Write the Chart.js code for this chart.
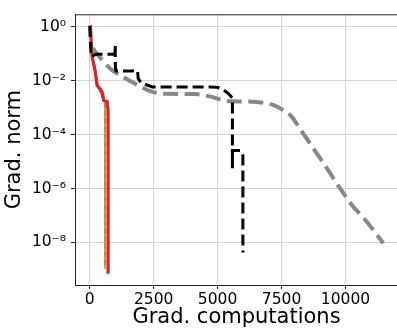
<!DOCTYPE html>
<html>
<head>
<meta charset="utf-8">
<script src="https://cdn.jsdelivr.net/npm/chart.js@4/dist/chart.umd.min.js"></script>
<style>
  html, body { margin: 0; padding: 0; background: #fff; overflow: hidden; }
  canvas { display: block; }
</style>
</head>
<body>
<canvas id="gradChart" width="400" height="329"></canvas>
<script>
// values
const xTicks = [0, 2500, 5000, 7500, 10000];
const yTicks = [1, 1e-2, 1e-4, 1e-6, 1e-8];
const yTickLabels = ['10⁰', '10⁻²', '10⁻⁴', '10⁻⁶', '10⁻⁸'];

const blackX = [0, 55, 250, 500, 980, 1000, 1000, 1010, 1030, 1160, 1630, 1870, 1900, 2000, 2450, 4720, 5000, 5230, 5400, 5580, 5580, 5580, 5890, 5990, 5990];
const blackY = [1.1, 0.078, 0.097, 0.097, 0.097, 0.2, 0.046, 0.03, 0.023, 0.023, 0.023, 0.024, 0.012, 0.0085, 0.0059, 0.0059, 0.0057, 0.0046, 0.0035, 0.0023, 5.7e-6, 2.6e-5, 2.6e-5, 1.7e-5, 4.2e-9];

const greyX = [117, 420, 810, 1360, 1820, 2370, 2960, 4130, 4790, 5300, 6080, 6860, 7140, 7530, 7920, 8230, 8780, 9240, 9790, 10260, 10770, 11480];
const greyY = [0.16, 0.07, 0.028, 0.013, 0.0074, 0.0041, 0.0033, 0.0032, 0.0025, 0.0018, 0.0017, 0.0015, 0.0013, 8.5e-4, 4.4e-4, 1.6e-4, 2.8e-5, 6.3e-6, 1.0e-6, 2.4e-7, 6.9e-8, 9.3e-9];

const redX = [0, 28, 94, 223, 290, 485, 547, 680, 720, 720];
const redY = [1, 1, 0.082, 0.021, 0.0068, 0.0039, 0.0019, 0.0017, 7.3e-4, 6.8e-10];

const orangeX = [0, 28, 94, 223, 290, 350, 420, 550, 600, 600];
const orangeY = [1, 1, 0.082, 0.021, 0.0068, 0.0066, 0.0039, 0.0017, 0.0016, 1.1e-9];

const blueX = [0, 28, 94, 223, 290, 345, 415, 545, 595, 595];
const blueY = [1, 1, 0.082, 0.021, 0.0068, 0.0067, 0.004, 0.0018, 0.0016, 1.1e-9];

const greenX = [0, 28, 94, 223, 290, 340, 410, 540, 588, 588];
const greenY = [1, 1, 0.082, 0.021, 0.0068, 0.0068, 0.0041, 0.0018, 0.0016, 1.1e-9];

function pts(xs, ys) {
    return xs.map((x, i) => ({ x: x, y: ys[i] }));
}

// top and right spines (left/bottom come from the axis borders)
const framePlugin = {
    id: 'frame',
    afterDraw(chart) {
        const { ctx, chartArea } = chart;
        ctx.save();
        ctx.strokeStyle = '#222';
        ctx.lineWidth = 1;
        ctx.beginPath();
        ctx.moveTo(chartArea.left, chartArea.top + 0.5);
        ctx.lineTo(chartArea.right, chartArea.top + 0.5);
        ctx.lineTo(chartArea.right, chartArea.bottom);
        ctx.stroke();
        ctx.restore();
    }
};

Chart.defaults.font.family = '"DejaVu Sans", sans-serif';
Chart.defaults.color = '#000';

new Chart(document.getElementById('gradChart').getContext('2d'), {
    type: 'line',
    data: {
        datasets: [
            {
                data: pts(blackX, blackY),
                borderColor: '#000',
                borderWidth: 3,
                borderDash: [11, 5],
                borderCapStyle: 'butt',
                pointRadius: 0,
                tension: 0
            },
            {
                data: pts(greyX, greyY),
                borderColor: '#888888',
                borderWidth: 4,
                borderDash: [15, 6.5],
                borderCapStyle: 'butt',
                pointRadius: 0,
                cubicInterpolationMode: 'monotone'
            },
            {
                data: pts(redX, redY),
                borderColor: '#d62728',
                borderWidth: 3.3,
                pointRadius: 0,
                tension: 0
            },
            {
                data: pts(orangeX, orangeY),
                borderColor: '#ff7f0e',
                borderWidth: 1.5,
                pointRadius: 0,
                tension: 0
            },
            {
                data: pts(blueX, blueY),
                borderColor: '#1f77b4',
                borderWidth: 1.5,
                borderDash: [5.5, 2.4],
                pointRadius: 0,
                tension: 0
            },
            {
                data: pts(greenX, greenY),
                borderColor: '#2ca02c',
                borderWidth: 1.5,
                borderDash: [1.5, 2.5],
                pointRadius: 0,
                tension: 0
            }
        ]
    },
    options: {
        responsive: false,
        devicePixelRatio: 1,
        animation: false,
        layout: { padding: { top: 7, right: 2, left: 0, bottom: 0 } },
        plugins: {
            legend: { display: false },
            tooltip: { enabled: false }
        },
        scales: {
            x: {
                type: 'linear',
                min: -574,
                max: 12054,
                afterBuildTicks: s => { s.ticks = xTicks.map(v => ({ value: v })); },
                afterFit: s => { s.height = 44; },
                ticks: {
                    font: { size: 15.5 },
                    padding: 2,
                    maxRotation: 0,
                    callback: v => String(v)
                },
                grid: {
                    color: '#d2d2d2',
                    lineWidth: 1,
                    tickLength: 4,
                    tickColor: '#222'
                },
                border: { color: '#222', width: 1 },
                title: {
                    display: true,
                    text: 'Grad. computations',
                    font: { size: 21 },
                    padding: { top: 0, bottom: -1 }
                }
            },
            y: {
                type: 'logarithmic',
                min: 2.6e-10,
                max: 2.95,
                afterBuildTicks: s => { s.ticks = yTicks.map(v => ({ value: v })); },
                afterFit: s => { s.width = 75; },
                ticks: {
                    font: { size: 15.5 },
                    padding: 5,
                    callback: v => {
                        const i = yTicks.findIndex(t => Math.abs(Math.log10(t) - Math.log10(v)) < 1e-6);
                        return i >= 0 ? yTickLabels[i] : '';
                    }
                },
                grid: {
                    color: '#d2d2d2',
                    lineWidth: 1,
                    tickLength: 4,
                    tickColor: '#222'
                },
                border: { color: '#222', width: 1 },
                title: {
                    display: true,
                    text: 'Grad. norm',
                    font: { size: 21 },
                    padding: { top: 2, bottom: 0 }
                }
            }
        }
    },
    plugins: [framePlugin]
});
</script>
</body>
</html>
